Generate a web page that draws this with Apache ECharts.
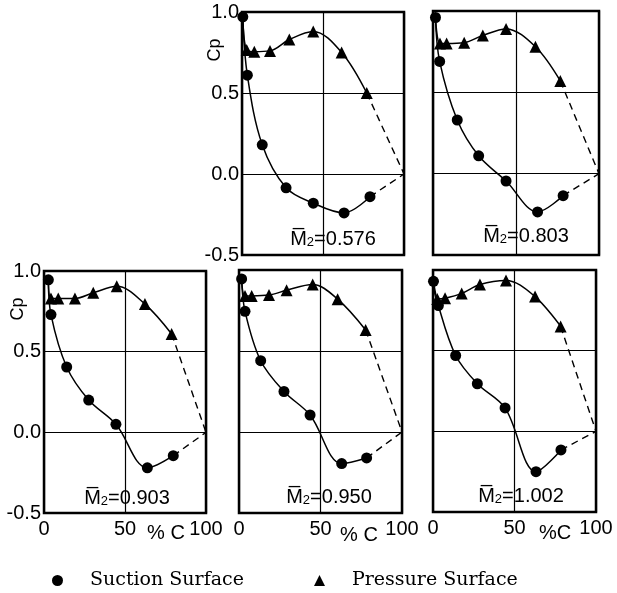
<!DOCTYPE html>
<html>
<head>
<meta charset="utf-8">
<script src="https://cdn.jsdelivr.net/npm/echarts@6/dist/echarts.min.js"></script>
<style>
  html, body { margin: 0; padding: 0; background: #fff; }
  #chart { width: 617px; height: 593px; }
</style>
</head>
<body>
<div id="chart"></div>
<script>
// Exit Mach numbers, one per panel
const machNumbers = ['0.576', '0.803', '0.903', '0.950', '1.002'];

// Chord position (%C) and pressure coefficient Cp, suction surface
const suction0576 = [[0.5, 0.97], [3.3, 0.61], [12.5, 0.18], [27.2, -0.085], [44, -0.18], [63, -0.24], [79, -0.14]];
const suction0803 = [[1.5, 0.96], [4, 0.69], [14.6, 0.33], [27.5, 0.11], [44, -0.045], [63, -0.235], [78.4, -0.135]];
const suction0903 = [[2.7, 0.945], [4.3, 0.73], [14, 0.405], [27.6, 0.20], [44.4, 0.05], [63.8, -0.22], [79.8, -0.145]];
const suction0950 = [[1.6, 0.945], [3.7, 0.745], [13.3, 0.44], [27.6, 0.25], [43.6, 0.105], [63, -0.195], [78.3, -0.16]];
const suction1002 = [[0.3, 0.93], [3.3, 0.78], [13.9, 0.47], [27.2, 0.295], [44.2, 0.145], [63.2, -0.25], [78.5, -0.115]];

// Pressure surface
const pressure0576 = [[2.9, 0.765], [7.6, 0.755], [17.3, 0.76], [29.2, 0.83], [44, 0.88], [61.5, 0.75], [77, 0.50]];
const pressure0803 = [[4.2, 0.80], [8.2, 0.80], [18.8, 0.805], [30, 0.85], [44, 0.89], [61.7, 0.78], [76.7, 0.57]];
const pressure0903 = [[4.3, 0.83], [8.8, 0.83], [19.1, 0.83], [30.4, 0.865], [44.9, 0.905], [62.3, 0.795], [78.8, 0.61]];
const pressure0950 = [[3.7, 0.84], [7.8, 0.84], [18.4, 0.845], [29.2, 0.875], [45.2, 0.91], [60.5, 0.82], [77.7, 0.63]];
const pressure1002 = [[2.6, 0.82], [7.4, 0.825], [17.6, 0.855], [28.8, 0.91], [44.8, 0.935], [62.6, 0.835], [78.3, 0.65]];

// Both surfaces close at the trailing edge
const trailingEdge = [100, 0];

// Axis ticks
const xTicks = [0, 50, 100];
const yTicks = [-0.5, 0, 0.5, 1.0];

const suctionSets = [suction0576, suction0803, suction0903, suction0950, suction1002];
const pressureSets = [pressure0576, pressure0803, pressure0903, pressure0950, pressure1002];

// Panel layout
const boxes = [
  { left: 242, top: 12, width: 162, height: 243 },
  { left: 433, top: 11, width: 166, height: 244 },
  { left: 44,  top: 271, width: 162, height: 242 },
  { left: 239, top: 270, width: 163, height: 243 },
  { left: 433, top: 270, width: 163, height: 242 }
];
const showY = [true, false, true, false, false];
const showX = [false, false, true, true, true];
const machPos = [[333, 238], [526, 235], [127, 497], [329, 496], [521, 495]];
const cpPos = [[215, 50], null, [18, 309], null, null];
const chordPos = [null, null, [166, 533, '% C'], [359, 535, '% C'], [555, 533, '%C']];

const BLACK = '#000';
const tickFont = 'Liberation Sans';

const grids = boxes.map(b => ({
  left: b.left, top: b.top, width: b.width, height: b.height,
  show: true, borderColor: BLACK, borderWidth: 2.5, backgroundColor: 'transparent'
}));

const xAxes = boxes.map((b, i) => ({
  type: 'value', gridIndex: i, min: xTicks[0], max: xTicks[xTicks.length - 1], interval: 50,
  axisLine: { show: false }, axisTick: { show: false },
  splitLine: { show: true, lineStyle: { color: BLACK, width: 1.2 } },
  axisLabel: { show: showX[i], color: BLACK, fontFamily: tickFont, fontSize: 20, margin: 6 }
}));

const yAxes = boxes.map((b, i) => ({
  type: 'value', gridIndex: i, min: yTicks[0], max: yTicks[yTicks.length - 1], interval: 0.5,
  axisLine: { show: false }, axisTick: { show: false },
  splitLine: { show: true, lineStyle: { color: BLACK, width: 1.2 } },
  axisLabel: { show: showY[i], color: BLACK, fontFamily: tickFont, fontSize: 20, margin: 3,
    formatter: v => v.toFixed(1) }
}));

const series = [];
suctionSets.forEach((suc, i) => {
  const pre = pressureSets[i];
  const lineStyle = { color: BLACK, width: 1.5 };
  series.push({
    name: 'Suction Surface', type: 'line', xAxisIndex: i, yAxisIndex: i,
    data: suc, smooth: 0.35, symbol: 'circle', symbolSize: 11,
    itemStyle: { color: BLACK }, lineStyle: lineStyle, z: 3
  });
  series.push({
    name: 'Pressure Surface', type: 'line', xAxisIndex: i, yAxisIndex: i,
    data: [{ value: suc[0], symbol: 'none' }].concat(pre),
    smooth: 0.35, symbol: 'triangle', symbolSize: 12,
    itemStyle: { color: BLACK }, lineStyle: lineStyle, z: 3
  });
  // dashed closure to the trailing edge
  [suc, pre].forEach(set => {
    series.push({
      name: 'te', type: 'line', xAxisIndex: i, yAxisIndex: i,
      data: [set[set.length - 1], trailingEdge], symbol: 'none', silent: true,
      lineStyle: { color: BLACK, width: 1.4, type: [7, 5] }, z: 2
    });
  });
});

const graphics = [];
machNumbers.forEach((m, i) => {
  graphics.push({
    type: 'text', x: machPos[i][0], y: machPos[i][1], z: 10,
    style: {
      text: '{m|M\u0305}{s|2}{t|=' + m + '}',
      align: 'center', verticalAlign: 'middle',
      rich: {
        m: { fontFamily: tickFont, fontSize: 20, fill: BLACK, verticalAlign: 'bottom', lineHeight: 22 },
        s: { fontFamily: tickFont, fontSize: 13, fill: BLACK, verticalAlign: 'bottom', lineHeight: 22 },
        t: { fontFamily: tickFont, fontSize: 20, fill: BLACK, verticalAlign: 'bottom', lineHeight: 22 }
      }
    }
  });
  if (cpPos[i]) {
    graphics.push({
      type: 'text', x: cpPos[i][0], y: cpPos[i][1], rotation: Math.PI / 2,
      style: { text: 'Cp', font: '18px "Liberation Sans"', fill: BLACK, align: 'center', verticalAlign: 'middle' }
    });
  }
  if (chordPos[i]) {
    graphics.push({
      type: 'text', x: chordPos[i][0], y: chordPos[i][1],
      style: { text: chordPos[i][2], font: '20px "Liberation Sans"', fill: BLACK, align: 'center', verticalAlign: 'middle' }
    });
  }
});

const legendText = { fontFamily: 'DejaVu Serif', fontSize: 19, color: BLACK, padding: [0, 0, 0, 22] };

const chart = echarts.init(document.getElementById('chart'), null, { renderer: 'canvas' });
chart.setOption({
  animation: false,
  backgroundColor: '#fff',
  grid: grids,
  xAxis: xAxes,
  yAxis: yAxes,
  legend: [
    { data: ['Suction Surface'], left: 47, top: 566, icon: 'circle', itemWidth: 11, itemHeight: 11,
      textStyle: legendText, selectedMode: false },
    { data: ['Pressure Surface'], left: 309, top: 566, icon: 'triangle', itemWidth: 11, itemHeight: 11,
      textStyle: legendText, selectedMode: false }
  ],
  series: series,
  graphic: graphics
});
</script>
</body>
</html>
